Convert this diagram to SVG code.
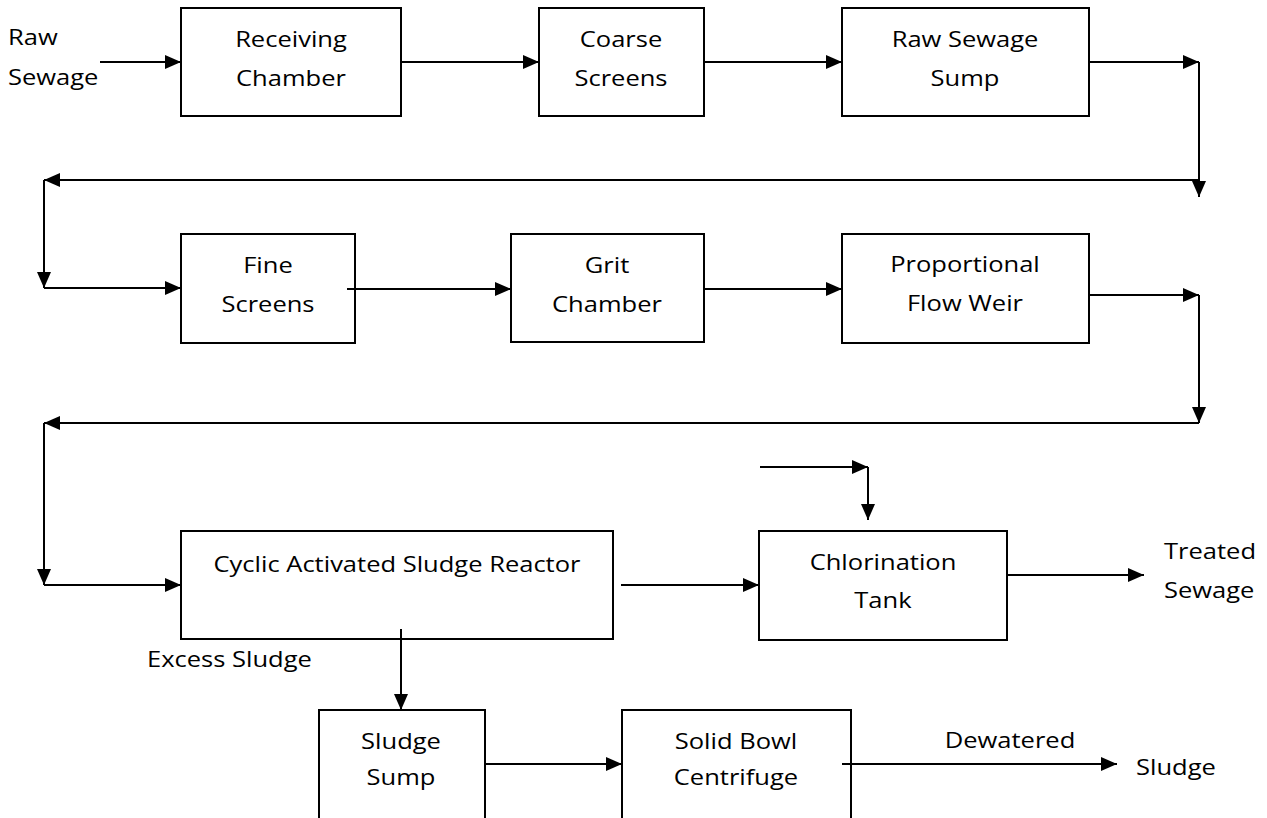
<svg xmlns="http://www.w3.org/2000/svg" width="1267" height="818" viewBox="0 0 1267 818">
<style>
.box{fill:#fff;stroke:#000;stroke-width:2}
.ar{fill:none;stroke:#000;stroke-width:2;marker-end:url(#ah)}
text{font-family:"Open Sans","Liberation Sans",sans-serif;font-size:22px;fill:#000;transform-box:fill-box;transform-origin:center;transform:scaleX(1.16)}
.c{text-anchor:middle}
.l{transform-origin:left center}
</style>
<defs>
<marker id="ah" markerUnits="userSpaceOnUse" markerWidth="16" markerHeight="14" refX="16" refY="7" orient="auto">
<path d="M0,0 L16,7 L0,14 Z" fill="#000"/>
</marker>
</defs>
<rect width="1267" height="818" fill="#fff"/>
<g id="n-receiving"><rect class="box" x="181" y="8" width="220" height="108"/><text class="c" x="291" y="47">Receiving</text><text class="c" x="291" y="86">Chamber</text></g>
<g id="n-coarse"><rect class="box" x="539" y="8" width="165" height="108"/><text class="c" x="621" y="47">Coarse</text><text class="c" x="621" y="86">Screens</text></g>
<g id="n-sump"><rect class="box" x="842" y="8" width="247" height="108"/><text class="c" x="965" y="47">Raw Sewage</text><text class="c" x="965" y="86">Sump</text></g>
<g id="n-fine"><rect class="box" x="181" y="234" width="174" height="109"/><text class="c" x="268" y="273">Fine</text><text class="c" x="268" y="312">Screens</text></g>
<g id="n-grit"><rect class="box" x="511" y="234" width="193" height="108"/><text class="c" x="607" y="273">Grit</text><text class="c" x="607" y="312">Chamber</text></g>
<g id="n-pfw"><rect class="box" x="842" y="234" width="247" height="109"/><text class="c" x="965" y="272">Proportional</text><text class="c" x="965" y="311">Flow Weir</text></g>
<g id="n-casr"><rect class="box" x="181" y="531" width="432" height="108"/><text class="c" x="397" y="572">Cyclic Activated Sludge Reactor</text></g>
<g id="n-chlor"><rect class="box" x="759" y="531" width="248" height="109"/><text class="c" x="883" y="570">Chlorination</text><text class="c" x="883" y="608">Tank</text></g>
<g id="n-ssump"><rect class="box" x="319" y="710" width="166" height="112"/><text class="c" x="401" y="749">Sludge</text><text class="c" x="401" y="785">Sump</text></g>
<g id="n-cent"><rect class="box" x="622" y="710" width="229" height="112"/><text class="c" x="736" y="749">Solid Bowl</text><text class="c" x="736" y="785">Centrifuge</text></g>
<g id="connectors">
<line class="ar" x1="100" y1="62" x2="181" y2="62"/>
<line class="ar" x1="401" y1="62" x2="539" y2="62"/>
<line class="ar" x1="704" y1="62" x2="842" y2="62"/>
<line class="ar" x1="1089" y1="62" x2="1199" y2="62"/>
<line class="ar" x1="1199" y1="62" x2="1199" y2="197"/>
<line class="ar" x1="1199" y1="180" x2="44" y2="180"/>
<line class="ar" x1="44" y1="180" x2="44" y2="288"/>
<line class="ar" x1="44" y1="288" x2="181" y2="288"/>
<line class="ar" x1="347" y1="289" x2="511" y2="289"/>
<line class="ar" x1="704" y1="289" x2="842" y2="289"/>
<line class="ar" x1="1089" y1="295" x2="1199" y2="295"/>
<line class="ar" x1="1199" y1="295" x2="1199" y2="423"/>
<line class="ar" x1="1199" y1="423" x2="44" y2="423"/>
<line class="ar" x1="44" y1="423" x2="44" y2="585"/>
<line class="ar" x1="44" y1="585" x2="181" y2="585"/>
<line class="ar" x1="621" y1="585" x2="759" y2="585"/>
<line class="ar" x1="760" y1="467" x2="868" y2="467"/>
<line class="ar" x1="868" y1="467" x2="868" y2="520"/>
<line class="ar" x1="1007" y1="575" x2="1144" y2="575"/>
<line class="ar" x1="401" y1="629" x2="401" y2="710"/>
<line class="ar" x1="485" y1="764" x2="622" y2="764"/>
<line class="ar" x1="842" y1="764" x2="1117" y2="764"/>
</g>
<g id="labels">
<text class="l" x="8" y="45">Raw</text>
<text class="l" x="8" y="85">Sewage</text>
<text class="l" x="147" y="667">Excess Sludge</text>
<text class="l" x="1164" y="559">Treated</text>
<text class="l" x="1164" y="598">Sewage</text>
<text class="c" x="1010" y="748">Dewatered</text>
<text class="l" x="1136" y="775">Sludge</text>
</g>
</svg>
